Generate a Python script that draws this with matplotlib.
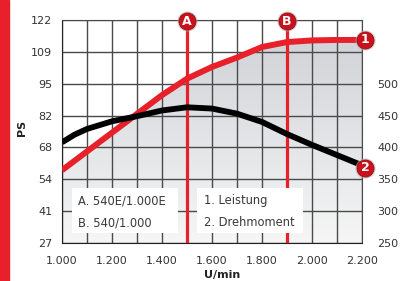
import numpy as np
import matplotlib
matplotlib.use("Agg")
import matplotlib.pyplot as plt
from matplotlib.patches import Rectangle

# data
rpm = [1000, 1100, 1200, 1300, 1400, 1500, 1600, 1700, 1800, 1900, 2000, 2100, 2200]
leistung_ps = [58, 66, 74, 82, 90, 97, 102, 106, 110.5, 112.6, 113.3, 113.5, 113.5]
drehmoment_rpm = [1000, 1050, 1100, 1200, 1300, 1400, 1500, 1600, 1700, 1800, 1900, 2000, 2100, 2200]
drehmoment_nm = [408, 420, 429, 441, 449, 458, 463, 461, 453, 440, 421, 404, 388, 372]
ps_labels = ['27', '41', '54', '68', '82', '95', '109', '122']
nm_ticks = [250, 300, 350, 400, 450, 500]
x_ticks = [1000, 1200, 1400, 1600, 1800, 2000, 2200]
x_labels = ['1.000', '1.200', '1.400', '1.600', '1.800', '2.000', '2.200']
marker_a = 1500
marker_b = 1900

RED = '#e8202a'
plt.rcParams['font.family'] = 'DejaVu Sans'

fig = plt.figure(figsize=(4.04, 2.81), dpi=100)
fig.patch.set_facecolor('white')
# red bar on the left edge
fig.patches.append(Rectangle((0, 0), 9 / 404, 1, transform=fig.transFigure,
                             color=RED, zorder=0))

ax = fig.add_axes([62 / 404, 1 - 243 / 281, 300 / 404, 223 / 281])
ax.set_xlim(1000, 2200)
ax.set_ylim(27, 122)
ax.set_facecolor('white')

# gradient fill under the power curve
grad = np.linspace(0, 1, 256).reshape(-1, 1)
cmap = matplotlib.colors.LinearSegmentedColormap.from_list('g', ['#f6f6f6', '#cdd0d5'])
img = ax.imshow(grad, extent=[1000, 2200, 27, 122], origin='lower', aspect='auto',
                cmap=cmap, zorder=0.5)
poly = ax.fill_between(rpm, leistung_ps, 27, color='none', lw=0)
img.set_clip_path(poly.get_paths()[0], transform=ax.transData)

# grid
ps_pos = [27 + k * 95 / 7 for k in range(8)]
for y in ps_pos:
    ax.axhline(y, color='#4a4a4a', lw=1.0, zorder=1)
for x in range(1000, 2201, 100):
    ax.axvline(x, color='#4a4a4a', lw=1.0, zorder=1)

for s in ax.spines.values():
    s.set_color('#4a4a4a')
ax.spines['left'].set_color('#222222')
ax.spines['bottom'].set_color('#222222')

ax.set_yticks(ps_pos)
ax.set_yticklabels(ps_labels)
ax.set_xticks(x_ticks)
ax.set_xticklabels(x_labels)
ax.tick_params(axis='both', length=0, labelsize=8, colors='#333333')
ax.tick_params(axis='y', pad=7)
ax.tick_params(axis='x', pad=9)

ax2 = ax.twinx()
ax2.set_ylim(250, 250 + 95 * 50 / (95 / 7))
ax2.set_yticks(nm_ticks)
ax2.tick_params(axis='y', length=0, labelsize=8, colors='#333333', pad=11)
for s in ax2.spines.values():
    s.set_visible(False)

# vertical marker lines
ax.axvline(marker_a, color=RED, lw=2.3, zorder=3)
ax.axvline(marker_b, color=RED, lw=2.3, zorder=3)

# curves
ax2.plot(drehmoment_rpm, drehmoment_nm, color='black', lw=4.2,
         solid_capstyle='butt', solid_joinstyle='round', zorder=4)
ax.plot(rpm, leistung_ps, color=RED, lw=4.3,
        solid_capstyle='butt', solid_joinstyle='round', zorder=5)

# legend boxes
for x0 in (0.033, 0.45):
    ax.add_patch(Rectangle((x0, 0.045), 0.352, 0.202, transform=ax.transAxes,
                           facecolor='white', edgecolor='none', zorder=6))
ax.text(0.053, 0.19, 'A. 540E/1.000E', transform=ax.transAxes, fontsize=8.3,
        color='#3a3a3a', va='center', zorder=7)
ax.text(0.053, 0.09, 'B. 540/1.000', transform=ax.transAxes, fontsize=8.3,
        color='#3a3a3a', va='center', zorder=7)
ax.text(0.473, 0.19, '1. Leistung', transform=ax.transAxes, fontsize=8.3,
        color='#3a3a3a', va='center', zorder=7)
ax.text(0.473, 0.09, '2. Drehmoment', transform=ax.transAxes, fontsize=8.3,
        color='#3a3a3a', va='center', zorder=7)

# round labels
def badge(axis, x, y, label):
    axis.scatter([x], [y], s=210, color='#b0b0b0', alpha=0.6, clip_on=False, zorder=8, lw=0)
    axis.scatter([x], [y], s=150, color='#c8121c', edgecolor='#a00d15', lw=0.6,
                 clip_on=False, zorder=9)
    axis.text(x, y, label, color='white', fontsize=9, fontweight='bold',
              ha='center', va='center', zorder=10, clip_on=False)

badge(ax, marker_a, 121.5, 'A')
badge(ax, marker_b, 121.5, 'B')
badge(ax, 2212, leistung_ps[-1], '1')
badge(ax2, 2212, drehmoment_nm[-1] - 4, '2')

fig.text(22 / 404, 1 - 128 / 281, 'PS', rotation=90, fontsize=8, fontweight='bold',
         ha='center', va='center', color='#222222')
fig.text(222 / 404, 1 - 275 / 281, 'U/min', fontsize=8, fontweight='bold',
         ha='center', va='center', color='#222222')

fig.savefig('out.png', dpi=100)
